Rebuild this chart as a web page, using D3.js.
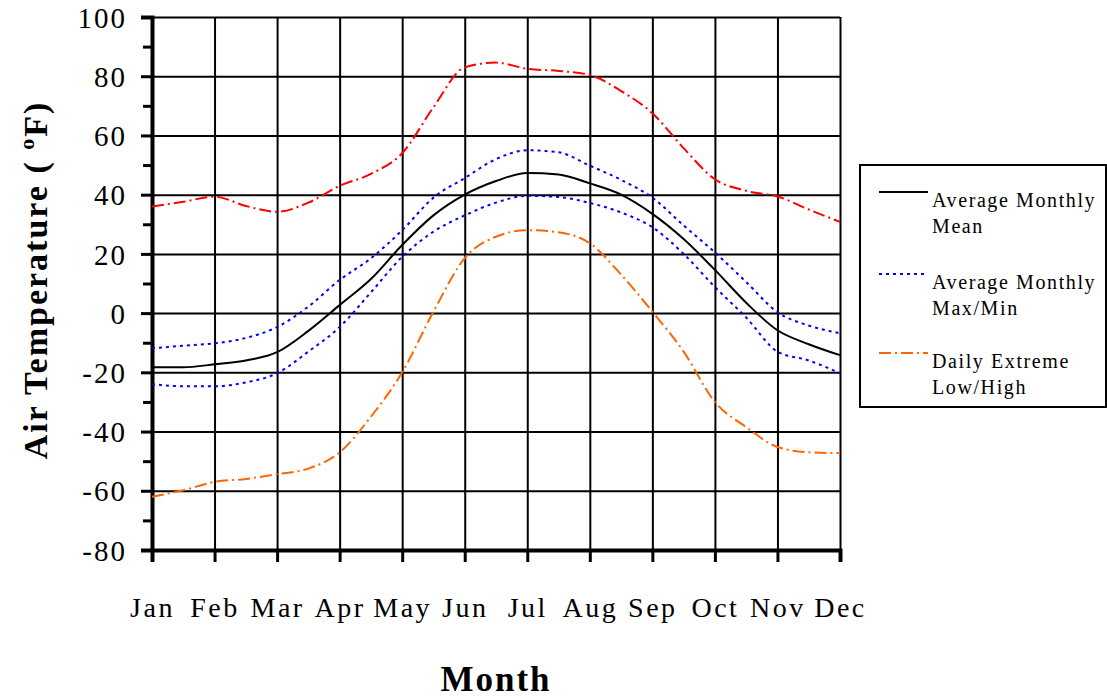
<!DOCTYPE html>
<html>
<head>
<meta charset="utf-8">
<script src="https://cdn.jsdelivr.net/npm/d3@7"></script>
<style>
  body { margin: 0; background: #fff; }
  svg { display: block; font-family: "Liberation Serif", "Times New Roman", serif; }
</style>
</head>
<body>
<svg id="chart" width="1107" height="698"></svg>
<script>
// month labels on the x axis
const months = ["Jan", "Feb", "Mar", "Apr", "May", "Jun", "Jul", "Aug", "Sep", "Oct", "Nov", "Dec"];

// sample positions, in months from Jan (half month steps)
const samplePos = [0, 0.5, 1, 1.5, 2, 2.5, 3, 3.5, 4, 4.5, 5, 5.5, 6, 6.5, 7, 7.5, 8, 8.5, 9, 9.5, 10, 10.5, 11];

// values, deg F
const extremeHigh = [36, 37.6, 39.3, 36.2, 34.2, 37.3, 43, 47, 54, 69.5, 83, 84.6, 82.5, 81.8, 80.4, 75, 67.5, 55.7, 45.2, 41.3, 39.4, 35, 30.8];
const avgMax = [-11.9, -11, -10.2, -8.4, -4.7, 2.2, 11.2, 18.5, 28, 39, 45.6, 52, 55, 54.3, 49.8, 45, 39, 29.6, 20.5, 10.5, 0.3, -4.2, -6.8];
const avgMean = [-18.3, -18.3, -17.3, -16, -13.2, -6, 2.7, 11.5, 23, 33, 40, 44.6, 47.3, 46.8, 43.8, 40, 33.5, 25, 14.6, 3.5, -5.8, -10.5, -14.2];
const avgMin = [-24, -24.7, -24.7, -23.4, -20.3, -13, -4.7, 7, 19, 27.5, 33, 37.3, 39.6, 39.2, 37.2, 34, 29, 20, 8.8, -1.5, -13, -16, -20.3];
const extremeLow = [-62, -59.8, -57, -56, -54.4, -52.5, -47, -35, -20, 0.5, 18.6, 25.8, 28, 27.3, 23.6, 13, 0.5, -13, -30, -38.5, -45.2, -47, -47.3];

const yMajor = d3.range(-80, 101, 20);
const yMinor = d3.range(-70, 100, 20);

const svg = d3.select("#chart");

const x = d3.scaleLinear().domain([0, 11]).range([152, 840]);
const y = d3.scaleLinear().domain([-80, 100]).range([550, 17]);

// grid lines
svg.append("g")
  .attr("transform", `translate(${x(0)},0)`)
  .call(d3.axisLeft(y).tickValues(yMajor).tickSize(-(x(11) - x(0))).tickFormat(""))
  .call(g => g.select(".domain").remove())
  .call(g => g.selectAll("line").attr("stroke", "#000").attr("stroke-width", 2));

svg.append("g")
  .attr("transform", `translate(0,${y(-80)})`)
  .call(d3.axisBottom(x).tickValues(d3.range(0, 12)).tickSize(-(y(-80) - y(100))).tickFormat(""))
  .call(g => g.select(".domain").remove())
  .call(g => g.selectAll("line").attr("stroke", "#000").attr("stroke-width", 2));

// left axis with labels (plain hyphen for negatives, as in the original)
svg.append("g")
  .attr("transform", `translate(${x(0)},0)`)
  .call(d3.axisLeft(y).tickValues(yMajor).tickSize(11).tickPadding(14).tickFormat(d => String(d)))
  .call(g => g.select(".domain").attr("stroke-width", 4))
  .call(g => g.selectAll("line").attr("stroke-width", 3))
  .call(g => g.selectAll("text")
    .attr("font-family", "Liberation Serif, serif")
    .attr("font-size", 29)
    .attr("letter-spacing", 2)
    .attr("fill", "#000")
    .attr("dy", "0.35em"));

svg.append("g")
  .attr("transform", `translate(${x(0)},0)`)
  .call(d3.axisLeft(y).tickValues(yMinor).tickSize(9).tickFormat(""))
  .call(g => g.select(".domain").remove())
  .call(g => g.selectAll("line").attr("stroke-width", 3));

// bottom axis with month labels
svg.append("g")
  .attr("transform", `translate(0,${y(-80)})`)
  .call(d3.axisBottom(x).tickValues(d3.range(0, 12)).tickSize(12).tickPadding(35)
    .tickFormat(i => months[i]))
  .call(g => g.select(".domain").attr("stroke-width", 4))
  .call(g => g.selectAll("line").attr("stroke-width", 3))
  .call(g => g.selectAll("text")
    .attr("font-family", "Liberation Serif, serif")
    .attr("font-size", 28)
    .attr("letter-spacing", 2.5)
    .attr("fill", "#000"));

// series
const series = [
  { name: "extremeHigh", values: extremeHigh, color: "#ff0000", dash: "12,4,2,4" },
  { name: "extremeLow", values: extremeLow, color: "#ff6600", dash: "12,4,2,4" },
  { name: "avgMax", values: avgMax, color: "#0000ff", dash: "3,4" },
  { name: "avgMin", values: avgMin, color: "#0000ff", dash: "3,4" },
  { name: "avgMean", values: avgMean, color: "#000000", dash: null }
];

const line = d3.line()
  .x((d, i) => x(samplePos[i]))
  .y(d => y(d))
  .curve(d3.curveMonotoneX);

svg.append("g").selectAll("path")
  .data(series)
  .join("path")
  .attr("d", d => line(d.values))
  .attr("fill", "none")
  .attr("stroke", d => d.color)
  .attr("stroke-width", 2)
  .attr("stroke-dasharray", d => d.dash);

// axis titles
const yTitle = svg.append("text")
  .attr("transform", "translate(47,280) rotate(-90)")
  .attr("text-anchor", "middle")
  .attr("font-size", 34)
  .attr("font-weight", "bold")
  .attr("letter-spacing", 2);
yTitle.append("tspan").text("Air Temperature ( ");
yTitle.append("tspan").attr("font-size", 22).attr("dy", -13).text("o");
yTitle.append("tspan").attr("dy", 13).text("F)");

svg.append("text")
  .attr("x", 496)
  .attr("y", 691)
  .attr("text-anchor", "middle")
  .attr("font-size", 35)
  .attr("font-weight", "bold")
  .attr("letter-spacing", 2)
  .text("Month");

// legend
const legendItems = [
  { lines: ["Average Monthly", "Mean"], color: "#000000", dash: null, y: 192 },
  { lines: ["Average Monthly", "Max/Min"], color: "#0000ff", dash: "3,4", y: 274 },
  { lines: ["Daily Extreme", "Low/High"], color: "#ff6600", dash: "12,4,2,4", y: 353 }
];

const legend = svg.append("g");
legend.append("rect")
  .attr("x", 860).attr("y", 165)
  .attr("width", 246).attr("height", 242)
  .attr("fill", "#fff")
  .attr("stroke", "#000")
  .attr("stroke-width", 2);

const item = legend.selectAll("g.item")
  .data(legendItems)
  .join("g")
  .attr("class", "item");

item.append("line")
  .attr("x1", 879).attr("x2", 928)
  .attr("y1", d => d.y).attr("y2", d => d.y)
  .attr("stroke", d => d.color)
  .attr("stroke-width", 2)
  .attr("stroke-dasharray", d => d.dash);

item.each(function(d) {
  const t = d3.select(this).append("text")
    .attr("font-size", 20)
    .attr("letter-spacing", 1.6)
    .attr("fill", "#000");
  d.lines.forEach((s, k) => {
    t.append("tspan").attr("x", 932).attr("y", d.y + 15 + k * 26).text(s);
  });
});
</script>
</body>
</html>
